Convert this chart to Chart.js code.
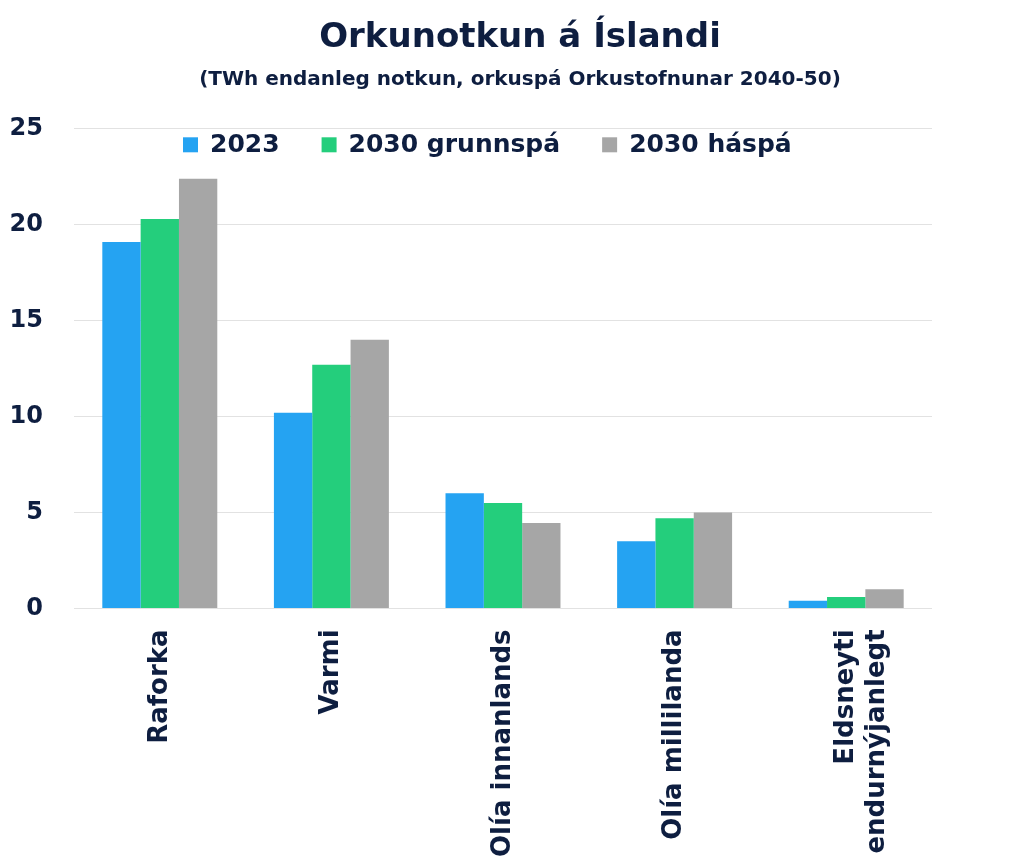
<!DOCTYPE html>
<html>
<head>
<meta charset="utf-8">
<script src="https://cdn.jsdelivr.net/npm/chart.js@4/dist/chart.umd.min.js"></script>
<style>
html,body{margin:0;padding:0;background:#fff;}
#wrap{width:1024px;height:862px;position:relative;}
</style>
</head>
<body>
<div id="wrap"><canvas id="c" width="1024" height="862"></canvas></div>
<script>
const categories = ["Raforka", "Varmi", "Olía innanlands", "Olía millilanda", ["Eldsneyti", "endurnýjanlegt"]];
const seriesNames = ["2023", "2030 grunnspá", "2030 háspá"];
const values2023 = [19.1, 10.2, 6.0, 3.5, 0.4];
const valuesGrunn = [20.3, 12.7, 5.5, 4.7, 0.6];
const valuesHa = [22.4, 14.0, 4.45, 5.0, 1.0];
const yTicks = [0, 5, 10, 15, 20, 25];
const colors = ["#25A3F2", "#24CE7C", "#A6A6A6"];
const navy = "#0E1E40";
const FONT = "DejaVu Sans";

// Legend drawn inside the plot area (horizontal row near the top)
const insideLegend = {
  id: 'insideLegend',
  afterDraw(chart) {
    const ctx = chart.ctx;
    const area = chart.chartArea;
    const fontSize = 25;
    const box = 15, gapBoxText = 12, gapItems = 42;
    ctx.save();
    ctx.font = `bold ${fontSize}px "${FONT}"`;
    const items = chart.data.datasets.map(d => ({text: d.label, color: d.backgroundColor, w: ctx.measureText(d.label).width}));
    let x = area.left + 109;
    const yc = area.top + 16;
    ctx.textBaseline = 'middle';
    ctx.textAlign = 'left';
    items.forEach(it => {
      ctx.fillStyle = it.color;
      ctx.fillRect(x, yc - box / 2, box, box);
      x += box + gapBoxText;
      ctx.fillStyle = navy;
      ctx.fillText(it.text, x, yc + 1);
      x += it.w + gapItems;
    });
    ctx.restore();
  }
};

new Chart(document.getElementById('c'), {
  type: 'bar',
  data: {
    labels: categories,
    datasets: [
      {label: seriesNames[0], data: values2023, backgroundColor: colors[0]},
      {label: seriesNames[1], data: valuesGrunn, backgroundColor: colors[1]},
      {label: seriesNames[2], data: valuesHa, backgroundColor: colors[2]}
    ]
  },
  plugins: [insideLegend],
  options: {
    responsive: false,
    animation: false,
    datasets: {bar: {categoryPercentage: 0.67, barPercentage: 1.0, borderWidth: 0}},
    layout: {padding: {left: 0, right: -16, top: 8, bottom: -8}},
    plugins: {
      title: {
        display: true,
        text: "Orkunotkun á Íslandi",
        color: navy,
        font: {family: FONT, size: 34, weight: 'bold'},
        padding: {top: 10, bottom: 3}
      },
      subtitle: {
        display: true,
        text: "(TWh endanleg notkun, orkuspá Orkustofnunar 2040-50)",
        color: navy,
        font: {family: FONT, size: 20, weight: 'bold'},
        padding: {top: 6, bottom: 37}
      },
      legend: {display: false},
      tooltip: {enabled: false}
    },
    scales: {
      x: {
        grid: {display: false},
        border: {display: false},
        ticks: {
          color: navy,
          font: {family: FONT, size: 26, weight: 'bold'},
          maxRotation: 90,
          minRotation: 90,
          padding: 13
        }
      },
      y: {
        min: yTicks[0],
        max: yTicks[yTicks.length - 1],
        grid: {color: "#E2E2E2", lineWidth: 1, drawTicks: false},
        border: {display: false},
        afterFit(scale) { scale.width = 74; },
        ticks: {
          stepSize: 5,
          color: navy,
          font: {family: FONT, size: 24, weight: 'bold'},
          padding: 31
        }
      },
      yPad: {
        position: 'right',
        display: true,
        min: 0,
        max: 25,
        grid: {display: false, drawOnChartArea: false},
        border: {display: false},
        ticks: {display: false},
        afterFit(scale) { scale.width = 108; }
      }
    }
  }
});
</script>
</body>
</html>
